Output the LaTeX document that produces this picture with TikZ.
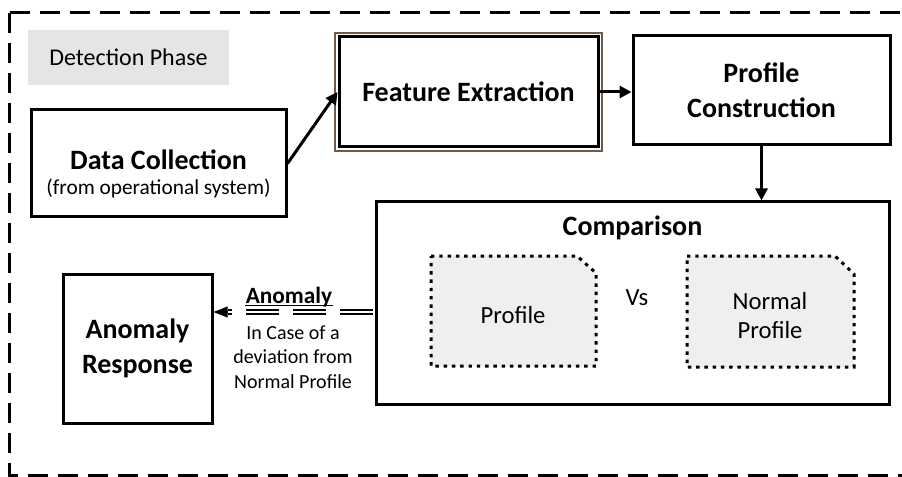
\documentclass[tikz,border=0pt]{standalone}
\usepackage{fontspec}
\setmainfont{Carlito}
\usetikzlibrary{arrows.meta}
\definecolor{framebrown}{RGB}{115,90,70}
\definecolor{phasegray}{RGB}{229,229,229}
\definecolor{dotfill}{RGB}{239,239,239}
\begin{document}
\begin{tikzpicture}[x=0.75pt,y=-0.75pt,
  box/.style={draw, line width=2.25pt, align=center, inner sep=0pt,
    font=\fontsize{21}{26}\selectfont\bfseries},
  arr/.style={line width=2.25pt, -{Triangle[length=9pt,width=9pt]}},
  dotbox/.style={line width=2.25pt, dash pattern=on 2.6pt off 3.6pt, fill=dotfill},
  outerdash/.style={line width=2.25pt, dash pattern=on 15pt off 7.5pt},
  txt/.style={align=center, inner sep=0pt},
  dblline/.style={line width=1pt, double distance=2pt, dash pattern=on 24.75pt off 10.5pt}]
\useasboundingbox (0,0) rectangle (902,477);

% outer dashed frame (right side outside the picture)
\draw[outerdash] (9.5,13) -- (910,13);
\draw[outerdash] (9.5,13) -- (9.5,475) -- (910,475);

% phase label
\node[txt, fill=phasegray, minimum width=201*0.75pt, minimum height=55*0.75pt,
  font=\fontsize{18}{21}\selectfont] (dp) at (128.5,57.5) {Detection Phase};

% main boxes
\node[box, minimum width=255*0.75pt, minimum height=107*0.75pt] (dc) at (158.5,163.5) {};
\node[txt, font=\fontsize{16}{19}\selectfont] (dct) at (158.5,174)
  {{\fontsize{21}{24}\selectfont\bfseries Data Collection}\\
   (from operational system)};

\node[box, minimum width=259*0.75pt, minimum height=110*0.75pt] (fe) at (468.5,92) {Feature Extraction};
\draw[framebrown, line width=1.1pt] ([shift={(-2.4,-2.4)}]fe.north west) rectangle ([shift={(2.4,2.4)}]fe.south east);

\node[box, minimum width=257*0.75pt, minimum height=109*0.75pt] (pc) at (761.5,90.5) {Profile\\Construction};

\node[box, minimum width=513*0.75pt, minimum height=202*0.75pt] (cmp) at (632.5,303) {};
\node[txt, font=\fontsize{21}{26}\selectfont\bfseries] (cmpt) at (632.5,228) {Comparison};

\node[box, minimum width=149*0.75pt, minimum height=149*0.75pt] (ar) at (137.5,348.5) {Anomaly\\Response};

% dotted profile shapes
\draw[dotbox] (431,256) -- (577,256) -- (596,273) -- (596,366) -- (431,366) -- cycle;
\node[txt, font=\fontsize{18.5}{21.75}\selectfont] (p1t) at (513,315) {Profile};
\draw[dotbox] (687,256) -- (835,256) -- (854,274) -- (854,367) -- (687,367) -- cycle;
\node[txt, font=\fontsize{18.5}{21.75}\selectfont] (p2t) at (770,316) {Normal\\Profile};
\node[txt, font=\fontsize{18.5}{21.75}\selectfont] (vs) at (637,298) {Vs};

% connectors
\draw[arr] (dc.east) -- (fe.west);
\draw[arr] (fe.east) -- (fe.east -| pc.west);
\draw[arr] (pc.south) -- (pc.south |- cmp.north);

% anomaly double dashed connector
\coordinate (ay) at (0,312);
\path (cmp.west |- ay) coordinate (cw);
\path (ar.east |- ay) coordinate (atip);
\draw[dblline] ([xshift=-1.2pt]cw) -- ([xshift=10.5pt]atip);
\draw[line width=1pt, -{Triangle[length=10.5pt,width=8pt]}] ([xshift=11pt]atip) -- (atip);

\node[txt, font=\fontsize{17.5}{20}\selectfont\bfseries] (an) at (289,297) {Anomaly};
\draw[line width=1.1pt] ([yshift=-1.6pt]an.base west) -- ([yshift=-1.6pt]an.base east);
\node[txt, font=\fontsize{15}{18.4}\selectfont] (ad) at (293,357) {In Case of a\\deviation from\\Normal Profile};
\end{tikzpicture}
\end{document}
